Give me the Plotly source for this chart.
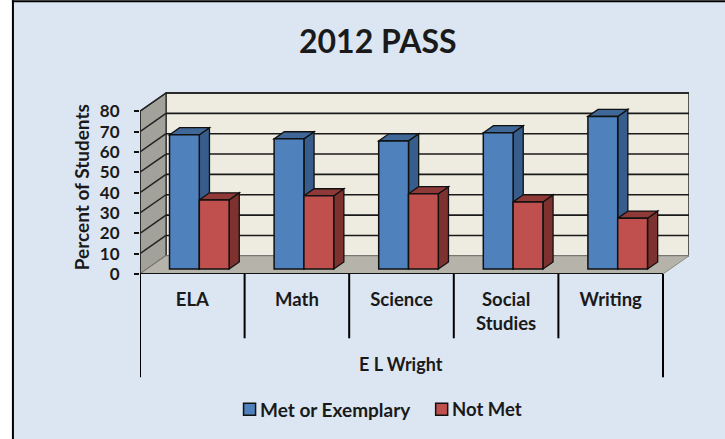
import plotly.graph_objects as go

categories = ["ELA", "Math", "Science", "Social<br>Studies", "Writing"]
met = [66, 64, 63, 67, 75]
not_met = [34, 36, 37, 33, 25]
y_ticks = [0, 10, 20, 30, 40, 50, 60, 70, 80]
group_label = "E L Wright"
title = "2012 PASS"
y_title = "Percent of Students"
names = ["Met or Exemplary", "Not Met"]

W, H = 725, 439
PL, PR, PT, PB = 140.0, 688.7, 91.7, 273.7     # plot area in pixels
PX_PER_CAT = 104.54
PX_PER_UNIT = 2.035
XMAX = (PR - PL) / PX_PER_CAT
YMAX = (PB - PT) / PX_PER_UNIT
DX = 26.0 / PX_PER_CAT      # total floor depth, in axis units
DY = 18.2 / PX_PER_UNIT
D0, D1 = 0.27, 0.66         # bar depth span as fractions of floor depth
BARW = 0.285
NC = len(categories)


def px(p):
    return (p - PL) / (PR - PL)


def py(p):
    return (PB - p) / (PB - PT)


def proj(x, v, d):
    return x + DX * d, v + DY * d


def path(points):
    return "M" + " L".join(f"{a:.4f},{b:.4f}" for a, b in points) + " Z"


def poly(points, fill, lw=1.3, lc="#111111"):
    return dict(type="path", xref="x", yref="y", layer="below", path=path(points),
                fillcolor=fill, line=dict(color=lc, width=lw))


def line(x0, y0, x1, y1, color="#111111", width=2, layer="above", xref="x", yref="y"):
    return dict(type="line", xref=xref, yref=yref, x0=x0, y0=y0, x1=x1, y1=y1, layer=layer,
                line=dict(color=color, width=width))


shapes = []
# walls and floor
xr = NC
shapes.append(poly([proj(0, 0, 1), proj(xr, 0, 1), proj(xr, 80, 1), proj(0, 80, 1)], "#EEECE1", 1.6, "#333333"))
shapes.append(poly([proj(0, 0, 0), proj(0, 0, 1), proj(0, 80, 1), proj(0, 80, 0)], "#A3A29A", 1.3, "#333333"))
shapes.append(poly([proj(0, 0, 0), proj(xr, 0, 0), proj(xr, 0, 1), proj(0, 0, 1)], "#B6B3AB", 1.0, "#8a8880"))
for t in y_ticks[1:]:
    a, b = proj(0, t, 0), proj(0, t, 1)
    c = proj(xr, t, 1)
    shapes.append(dict(type="line", xref="x", yref="y", layer="below", x0=a[0], y0=a[1], x1=b[0], y1=b[1],
                       line=dict(color="#222222", width=1.5)))
    shapes.append(dict(type="line", xref="x", yref="y", layer="below", x0=b[0], y0=b[1], x1=c[0], y1=c[1],
                       line=dict(color="#1a1a1a", width=1.6)))

# side and top faces of each bar, projected from its value
series = [(met, 0, "#375D8C", "#3F6899"), (not_met, 1, "#7E3230", "#8F3A38")]
for vals, k, side, top in series:
    for i, v in enumerate(vals):
        left = i + 0.5 - BARW + k * BARW
        right = left + BARW
        shapes.append(poly([proj(right, 0, D0), proj(right, 0, D1), proj(right, v, D1), proj(right, v, D0)], side))
        shapes.append(poly([proj(left, v, D0), proj(right, v, D0), proj(right, v, D1), proj(left, v, D1)], top))

# axis lines and multi-level category dividers
shapes.append(line(0, 0, 0, 80, "#222222", 1.5))
shapes.append(line(0, 0, NC, 0, "#111111", 2))
for i in range(NC + 1):
    low = 377 if i in (0, NC) else 338
    shapes.append(line(i, py(PB), i, py(low), "#000000", 2, yref="paper"))

# outer frame and background
shapes.insert(0, dict(type="rect", xref="paper", yref="paper", layer="below",
                      x0=px(13), x1=px(W + 2), y0=py(1), y1=py(H + 2),
                      fillcolor="#DCE6F2", line=dict(width=0)))
shapes.append(line(px(13), py(0), px(13), py(H), "#000000", 2, xref="paper", yref="paper"))
shapes.append(line(px(12), py(1), px(W), py(1), "#000000", 2, xref="paper", yref="paper"))

# legend swatches
shapes.append(dict(type="rect", xref="paper", yref="paper", x0=px(243.5), x1=px(255.5), y0=py(403), y1=py(415),
                   fillcolor="#4F81BD", line=dict(color="#111111", width=1.5)))
shapes.append(dict(type="rect", xref="paper", yref="paper", x0=px(435.5), x1=px(447.5), y0=py(403), y1=py(415),
                   fillcolor="#C0504D", line=dict(color="#111111", width=1.5)))

x_centers = [i + 0.5 + DX * D0 for i in range(NC)]
base = [DY * D0] * NC
bar_line = dict(color="#111111", width=1.5)
fig = go.Figure()
fig.add_trace(go.Bar(name=names[0], x=x_centers, y=met, base=base, marker=dict(color="#4F81BD", line=bar_line)))
fig.add_trace(go.Bar(name=names[1], x=x_centers, y=not_met, base=base, marker=dict(color="#C0504D", line=bar_line)))

FONT = "Lato, Carlito, sans-serif"
TXT = "#1a1a1a"


def note(text, x, y, size, anchor="center", angle=0):
    return dict(text=f"<b>{text}</b>", xref="paper", yref="paper", x=px(x), y=py(y), xanchor=anchor, yanchor="middle",
                showarrow=False, textangle=angle, font=dict(family=FONT, size=size, color=TXT))


annotations = [
    note(title, 378, 40, 32),
    note(y_title, 81, 187, 19, angle=-90),
    note(group_label, 401, 364, 18),
    note(names[0], 257.5, 409, 19, "left"),
    note(names[1], 449.5, 409, 18.5, "left"),
]

fig.update_layout(
    width=W, height=H, autosize=False,
    margin=dict(l=PL, r=W - PR, t=PT, b=H - PB, pad=0),
    paper_bgcolor="#FFFFFF", plot_bgcolor="rgba(0,0,0,0)",
    barmode="group", bargap=1 - 2 * BARW, bargroupgap=0,
    showlegend=False, shapes=shapes, annotations=annotations,
    font=dict(family=FONT, color=TXT),
    xaxis=dict(range=[0, XMAX], tickmode="array", tickvals=[i + 0.5 for i in range(NC)],
               ticktext=[f"<b>{c}</b>".replace("<br>", "</b><br><b>") for c in categories],
               ticks="outside", ticklen=9, tickcolor="rgba(0,0,0,0)",
               showgrid=False, zeroline=False, showline=False, tickfont=dict(size=18.5, family=FONT, color=TXT)),
    yaxis=dict(range=[0, YMAX], tickmode="array", tickvals=y_ticks,
               ticktext=[f"<b>{t}</b>" for t in y_ticks],
               ticks="outside", ticklen=5, tickwidth=1.5, tickcolor="#111111", ticklabelstandoff=11,
               showgrid=False, zeroline=False, showline=False, tickfont=dict(size=17, family=FONT, color=TXT)),
)

fig.write_html("out.html", config={"displayModeBar": False},
               post_script="document.body.style.margin='0';document.documentElement.style.overflow='hidden';")
